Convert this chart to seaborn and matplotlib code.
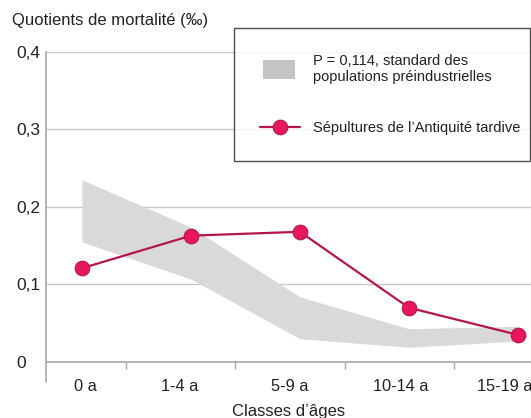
import numpy as np
import pandas as pd
import matplotlib
matplotlib.use("Agg")
import matplotlib.pyplot as plt
import seaborn as sns
from matplotlib.patches import Patch, Rectangle
from matplotlib.lines import Line2D
from matplotlib.legend_handler import HandlerPatch

# data
classes = ["0 a", "1-4 a", "5-9 a", "10-14 a", "15-19 a"]
sepultures = [0.121, 0.163, 0.168, 0.070, 0.035]
band_low = [0.155, 0.107, 0.030, 0.019, 0.027]
band_high = [0.235, 0.174, 0.084, 0.043, 0.046]
yticks = [0, 0.1, 0.2, 0.3, 0.4]
ytick_labels = ["0", "0,1", "0,2", "0,3", "0,4"]

sns.set_theme(style="white")
plt.rcParams['font.family'] = ['Liberation Sans', 'DejaVu Sans']

red_line = "#b3164a"
red_fill = "#e8175d"
band_col = "#d9d8da"
axis_col = "#a6a6ab"

df = pd.DataFrame({"x": np.arange(len(classes)), "q": sepultures})

fig = plt.figure(figsize=(5.31, 4.18), dpi=100)
ax = fig.add_axes([0.0866, 0.134, 0.9134, 0.7416])

for y in yticks[1:]:
    ax.axhline(y, color="#c8c8cc", lw=1, zorder=0)

ax.fill_between(df["x"], band_low, band_high, color=band_col, lw=0, zorder=1)
sns.lineplot(data=df, x="x", y="q", ax=ax, color=red_line, lw=1.6,
             marker="o", markersize=10.5, markerfacecolor=red_fill,
             markeredgecolor=red_line, markeredgewidth=0.8, zorder=3)

ax.set_xlim(-0.33, 4.12)
ax.set_ylim(0, 0.4)
ax.set_yticks(yticks)
ax.set_yticklabels(ytick_labels)
ax.tick_params(axis="y", length=0, pad=21, labelsize=12.5, colors="#222222")
for lab in ax.get_yticklabels():
    lab.set_horizontalalignment("left")

# category labels sit between separator ticks
label_pos = [0.035, 0.90, 1.91, 2.92, 3.88]
ax.set_xticks(label_pos)
ax.set_xticklabels(classes)
ax.set_xticks([0.4, 1.4, 2.41, 3.41], minor=True)
ax.tick_params(axis="x", which="major", length=0, pad=12, labelsize=11.8,
               colors="#222222")
ax.tick_params(axis="x", which="minor", length=5, width=1, color=axis_col,
               bottom=True, direction="out")

for s in ["top", "right"]:
    ax.spines[s].set_visible(False)
for s in ["left", "bottom"]:
    ax.spines[s].set_color(axis_col)
    ax.spines[s].set_linewidth(1.2)
ax.plot([0, 0], [0, -0.065], transform=ax.transAxes, color=axis_col,
        lw=1.2, clip_on=False)

ax.set_xlabel("Classes d\u2019\u00e2ges", fontsize=12, color="#222222")
ax.set_ylabel("")
ax.xaxis.set_label_coords(0.5, -0.135)
fig.text(12 / 531, 1 - 20 / 418, "Quotients de mortalit\u00e9 (\u2030)",
         fontsize=12, color="#222222", va="center", ha="left")


# narrower grey swatch than the line handle
def small_box(legend, orig_handle, xdescent, ydescent, width, height, fontsize):
    return Rectangle((-xdescent + 0.08 * width, -ydescent + 0.5 * height - 7),
                     0.8 * width, 14)


handles = [
    Patch(facecolor="#c4c3c6", edgecolor="none"),
    Line2D([], [], color=red_line, lw=1.6, marker="o", markersize=10.5,
           markerfacecolor=red_fill, markeredgecolor=red_line,
           markeredgewidth=0.8),
]
labels = ["P = 0,114, standard des\npopulations pr\u00e9industrielles",
          "S\u00e9pultures de l\u2019Antiquit\u00e9 tardive"]
leg = fig.legend(handles, labels, loc="upper left",
                 bbox_to_anchor=(234 / 531, 1 - 28 / 418, 296 / 531, 0),
                 mode="expand", frameon=True, fancybox=False,
                 fontsize=10.5, handlelength=2.7, handletextpad=0.9,
                 borderpad=1.8, labelspacing=2.5, borderaxespad=0,
                 handler_map={Patch: HandlerPatch(patch_func=small_box)})
leg.get_frame().set_edgecolor("#222222")
leg.get_frame().set_linewidth(1.0)
for t in leg.get_texts():
    t.set_color("#222222")

fig.savefig("out.png", dpi=100)
